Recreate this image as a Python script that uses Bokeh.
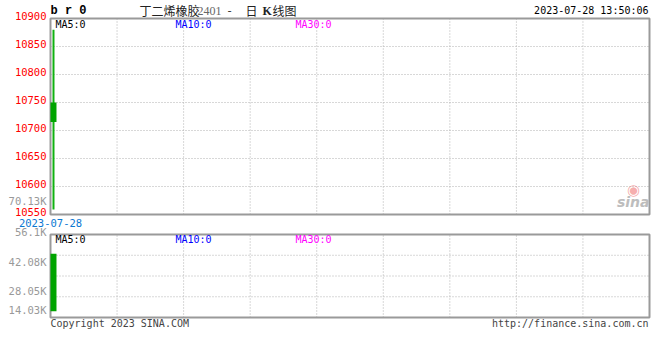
from bokeh.plotting import figure
from bokeh.models import Label, Range1d, ColumnDataSource
from bokeh.embed import file_html
from bokeh.resources import INLINE

# ---------------- data ----------------
dates = ["2023-07-28"]
idx = [0]
opens = [10750]
closes = [10715]
highs = [10880]
lows = [10559]
volumes = [42075]

price_ticks = [10550, 10600, 10650, 10700, 10750, 10800, 10850, 10900]
vol_tick_values = [56100, 42075, 28050, 14025]
vol_tick_labels = ["56.1K", "42.08K", "28.05K", "14.03K"]
extra_vol_label = "70.13K"
ma_labels = ["MA5:0", "MA10:0", "MA30:0"]
ma_colors = ["#000000", "#0000ff", "#ff00ff"]
title_parts = ["丁二烯橡胶", "2401", "-", "日", "K", "线图"]
timestamp = "2023-07-28 13:50:06"
code_text = "b r 0"
copyright_text = "Copyright 2023 SINA.COM"
url_text = "http://finance.sina.com.cn"

# ---------------- style / layout (pixels) ----------------
W, H = 660, 360
MONO = "DejaVu Sans Mono"
CJK = "Noto Sans CJK SC"
GRID = "#b0b0b0"
BORDER = "#9a9a9a"
GREEN_BODY = "#00a400"
GREEN_WICK = "#10b010"

PX_LEFT, PX_RIGHT = 50, 649          # panel left/right edges
P_TOP, P_BOTTOM = 18, 214            # price panel top/bottom
V_TOP, V_BOTTOM = 234, 317           # volume panel top/bottom

X0, X1 = -0.5, 99.5                  # slot range (one slot per trading day)
vstart = -4600
vend = vol_tick_values[0]
pmin, pmax = price_ticks[0], price_ticks[-1]


def span(lo, hi, px_lo, px_hi, total):
    """range so that lo sits at pixel px_lo and hi at px_hi (pixels from top)"""
    per = (hi - lo) / (px_lo - px_hi)
    return lo - (total - px_lo) * per, hi + px_hi * per


xper = (X1 - X0) / (PX_RIGHT - PX_LEFT)
x_range = Range1d(X0 - PX_LEFT * xper, X1 + (W - PX_RIGHT) * xper)
y_range = Range1d(*span(pmin, pmax, P_BOTTOM, P_TOP, H))
v_range = Range1d(*span(vstart, vend, V_BOTTOM, V_TOP, H))

p = figure(width=W, height=H, x_range=x_range, y_range=y_range,
           output_backend="svg", toolbar_location=None,
           x_axis_location=None, y_axis_location=None, min_border=0)
p.extra_y_ranges = {"vol": v_range}
p.outline_line_color = None
p.xgrid.visible = False
p.ygrid.visible = False
p.background_fill_color = "white"
p.border_fill_color = "white"

src = ColumnDataSource(dict(x=idx, date=dates, open=opens, close=closes,
                            high=highs, low=lows, vol=volumes))

xgrid_ticks = [X0 + (X1 - X0) * k / 9 for k in range(1, 9)]
vgrid_ticks = [vstart + (vend - vstart) * k / 4 for k in (1, 2, 3)]


def lab(**kw):
    kw.setdefault("text_baseline", "middle")
    kw.setdefault("text_font", MONO)
    kw.setdefault("text_font_size", "10px")
    p.add_layout(Label(**kw))


def panel(lo, hi, hticks, rng):
    kw = {} if rng is None else {"y_range_name": rng}
    n = len(xgrid_ticks)
    p.segment(x0=xgrid_ticks, x1=xgrid_ticks, y0=[lo] * n, y1=[hi] * n,
              line_color=GRID, line_dash="1 2", line_width=1, **kw)
    m = len(hticks)
    p.segment(x0=[X0] * m, x1=[X1] * m, y0=hticks, y1=hticks,
              line_color=GRID, line_dash="1 2", line_width=1, **kw)
    p.quad(left=[X0], right=[X1], bottom=[lo], top=[hi], fill_color=None,
           line_color=BORDER, line_width=2, **kw)


# ---------------- price panel ----------------
panel(pmin, pmax, price_ticks[1:-1], None)

p.segment(x0="x", y0="low", x1="x", y1="high", source=src,
          line_color=GREEN_WICK, line_width=2)
p.vbar(x="x", width=1, top="open", bottom="close", source=src,
       fill_color=GREEN_BODY, line_color=None)

for t in price_ticks:
    lab(x=X0, y=t, x_offset=-4, y_offset=3, text=str(t), text_align="right",
        text_color="#ff0000", text_font_size="10.5px")

lab(x=X0, y=pmin, x_offset=-4, y_offset=14, text=extra_vol_label,
    text_align="right", text_color="#999999", text_font_size="10.5px")
lab(x=X0, y=pmin, y_offset=-8, text=dates[0], text_align="center",
    text_color="#0a78d2", text_font_size="10.5px")

ma_x = [5, 125, 245]
for t, col, xo in zip(ma_labels, ma_colors, ma_x):
    lab(x=X0, y=pmax, x_offset=xo, y_offset=-6, text=t, text_align="left",
        text_color=col)

lab(x=X0, y=pmax, y_offset=8, text=code_text, text_align="left",
    text_color="#000000", text_font="Liberation Mono", text_font_style="bold",
    text_font_size="12px")
lab(x=X1, y=pmax, x_offset=-1, y_offset=8, text=timestamp, text_align="right",
    text_color="#000000")

title_specs = [
    (89, CJK, "normal", "12px", "#222222"),
    (147, "Liberation Serif", "normal", "12px", "#666666"),
    (177, CJK, "normal", "12px", "#222222"),
    (195, CJK, "normal", "12px", "#222222"),
    (212, "Liberation Serif", "bold", "12px", "#222222"),
    (222, CJK, "normal", "12px", "#222222"),
]
for txt, (xo, fnt, sty, size, col) in zip(title_parts, title_specs):
    lab(x=X0, y=pmax, x_offset=xo, y_offset=8, text=txt, text_align="left",
        text_color=col, text_font=fnt, text_font_style=sty, text_font_size=size)

# sina watermark
lab(x=X1, y=pmin, x_offset=0, y_offset=13, text="sina", text_align="right",
    text_color="#bdbdbd", text_font="DejaVu Sans", text_font_style="bold italic",
    text_font_size="14px")
lab(x=X1, y=pmin, x_offset=-16, y_offset=25, text="◉", text_align="center",
    text_color="#f07878", text_alpha=0.6, text_font="DejaVu Sans",
    text_font_size="15px")

# ---------------- volume panel ----------------
panel(vstart, vend, vgrid_ticks, "vol")

p.vbar(x="x", width=1, top="vol", bottom=0, source=src, y_range_name="vol",
       fill_color=GREEN_BODY, line_color=None)

vol_label_offsets = [3, -8, -18, -18]
for v, t, yo in zip(vol_tick_values, vol_tick_labels, vol_label_offsets):
    lab(x=X0, y=v, y_range_name="vol", x_offset=-4, y_offset=yo, text=t,
        text_align="right", text_color="#999999", text_font_size="10.5px")

for t, col, xo in zip(ma_labels, ma_colors, ma_x):
    lab(x=X0, y=vend, y_range_name="vol", x_offset=xo, y_offset=-5, text=t,
        text_align="left", text_color=col)

lab(x=X0, y=vstart, y_range_name="vol", y_offset=-6, text=copyright_text,
    text_align="left", text_color="#444444")
lab(x=X1, y=vstart, y_range_name="vol", x_offset=-1, y_offset=-6, text=url_text,
    text_align="right", text_color="#444444")

open("out.html", "w").write(file_html(p, INLINE))
